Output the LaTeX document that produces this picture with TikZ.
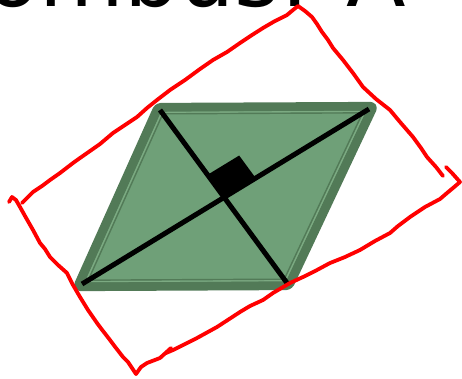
\documentclass[tikz,border=0pt]{standalone}
\usepackage{fontspec}
\setmainfont{DejaVu Sans}
\usetikzlibrary{calc}
\definecolor{rfill}{HTML}{6FA078}
\definecolor{rborder}{HTML}{527A57}
\definecolor{rlight}{HTML}{7CAA82}
\definecolor{penred}{HTML}{FF0000}
\begin{document}
\begin{tikzpicture}[x=1pt,y=-1pt,
  redpen/.style={draw=penred, line width=3.8pt, line cap=round, line join=round},
  diag/.style={draw=black, line width=5pt},
  titletext/.style={anchor=base east, inner sep=0pt, font=\fontsize{87}{100}\selectfont}]
\useasboundingbox (0,0) rectangle (462,378);
\node[titletext] (title) at (406,6) {Rhombus: A};
% vertices (diagonal end points)
\coordinate (A) at (82,284);
\coordinate (B) at (160,110);
\coordinate (C) at (369,109);
\coordinate (D) at (287,283);
\coordinate (O) at (224.5,196.5);
% body with border
\filldraw[fill=rfill, draw=rborder, line width=9pt, line join=round, rounded corners=3pt]
  ($(O)!1.03!(A)$) -- ($(O)!1.03!(B)$) -- ($(O)!1.03!(C)$) -- ($(O)!1.03!(D)$) -- cycle;
\draw[rlight, line width=1.3pt, line join=round]
  ($(O)!0.972!(A)$) -- ($(O)!0.972!(B)$) -- ($(O)!0.972!(C)$) -- ($(O)!0.972!(D)$) -- cycle;
\draw[rborder, line width=1.4pt, line join=round]
  ($(O)!0.956!(A)$) -- ($(O)!0.956!(B)$) -- ($(O)!0.956!(C)$) -- ($(O)!0.956!(D)$) -- cycle;
% diagonals
\draw[diag] (A) -- (C);
\draw[diag] (B) -- (D);
% right angle mark
\coordinate (I) at (intersection of A--C and B--D);
\coordinate (Pb) at ($(I)!28pt!(B)$);
\coordinate (Pc) at ($(I)!37pt!(C)$);
\coordinate (Pbc) at ($(Pb)+(Pc)-(I)$);
\fill[black] (I) -- (Pb) -- (Pbc) -- (Pc) -- cycle;
% hand drawn red outline
\draw[redpen] (22,203) -- (28,197) -- (33,192) -- (42,186) -- (50,180) -- (60,173) -- (73,163) -- (80,158) -- (90,151) -- (100,144) -- (113,133) -- (125,125) -- (137,117) -- (147,108) -- (157,100) -- (170,90) -- (185,80) -- (200,69) -- (213,60) -- (227,52) -- (240,43) -- (252,35) -- (263,28) -- (275,21) -- (287,15) -- (293,10) -- (298,6) -- (305,11) -- (312,17) -- (317,24) -- (322,32) -- (328,40) -- (333,48) -- (343,60) -- (353,73) -- (363,87) -- (376,99) -- (390,110) -- (400,122) -- (413,137) -- (421,148) -- (427,157) -- (436,167) -- (443,176);
\draw[redpen] (446,167) -- (452,173) -- (460,182) -- (453,188) -- (447,193) -- (440,199) -- (425,207) -- (410,217) -- (398,226) -- (390,233) -- (375,241) -- (360,250) -- (345,257) -- (330,263) -- (317,270) -- (303,277) -- (290,283) -- (273,293) -- (263,300) -- (250,306) -- (240,312) -- (217,327) -- (197,338) -- (185,344) -- (173,350) -- (166,353) -- (171,348) -- (160,358) -- (147,363) -- (141,367) -- (136,374) -- (132,368) -- (128,362) -- (123,357) -- (116,348) -- (110,340) -- (103,331) -- (97,323) -- (88,310) -- (80,297) -- (73,285) -- (67,273) -- (58,265) -- (50,257) -- (45,249) -- (40,243) -- (33,230) -- (25,216) -- (20,207) -- (16,200) -- (12,197) -- (9,202);
\end{tikzpicture}
\end{document}
